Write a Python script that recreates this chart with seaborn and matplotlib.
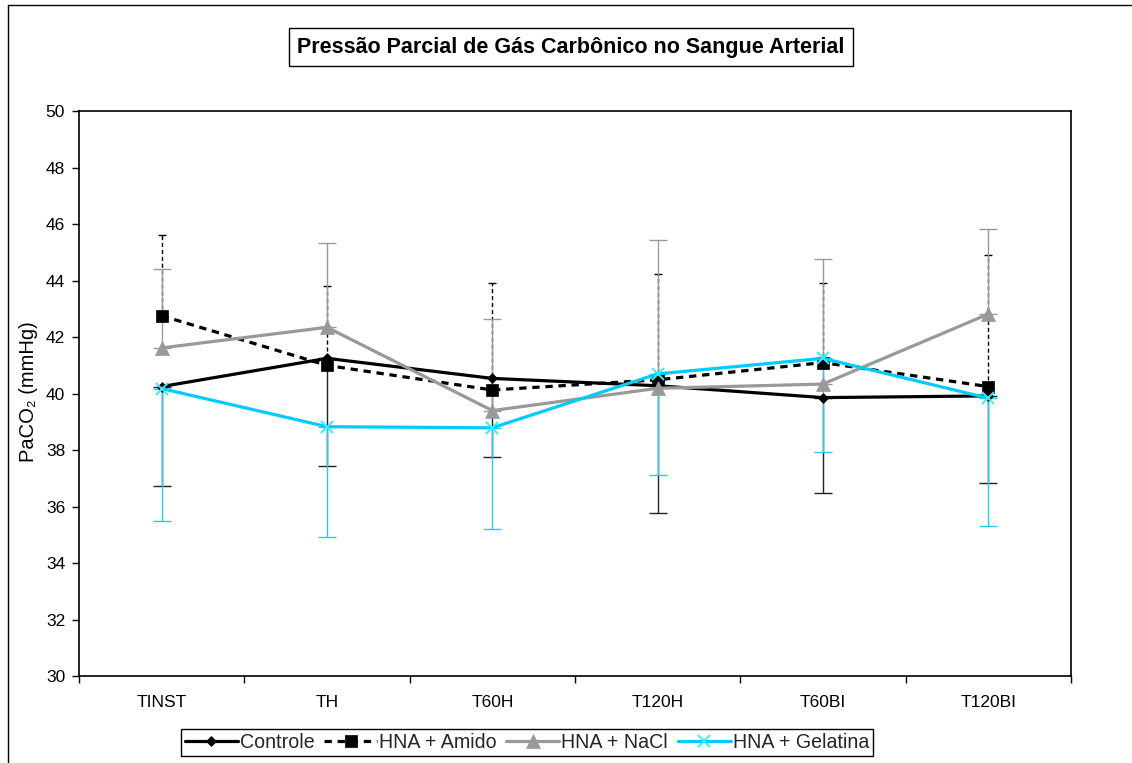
import matplotlib
matplotlib.use("Agg")
import matplotlib.pyplot as plt
from matplotlib.lines import Line2D
import seaborn as sns

# Time points and group means / standard deviations of PaCO2 (mmHg)
categories = ["TINST", "TH", "T60H", "T120H", "T60BI", "T120BI"]

controle = [40.25, 41.25, 40.54, 40.28, 39.86, 39.92]
controle_sd = [3.51, 3.80, 2.79, 4.50, 3.37, 3.07]

amido = [42.76, 41.00, 40.13, 40.49, 41.10, 40.25]
amido_sd = [2.86, 2.81, 3.80, 3.74, 2.81, 4.67]

nacl = [41.62, 42.35, 39.40, 40.19, 40.34, 42.82]
nacl_sd = [2.80, 2.99, 3.24, 5.25, 4.42, 3.00]

gelatina = [40.18, 38.83, 38.79, 40.70, 41.25, 39.84]
gelatina_sd = [4.69, 3.90, 3.59, 3.58, 3.31, 4.53]

series_names = ["Controle", "HNA + Amido", "HNA + NaCl", "HNA + Gelatina"]

sns.set_style("white")
plt.rcParams["font.family"] = ["Liberation Sans", "DejaVu Sans"]

W, H = 1132, 763
fig = plt.figure(figsize=(W / 100, H / 100), dpi=100)
fig.patch.set_facecolor("white")
ax = fig.add_axes([79 / W, 1 - 676 / H, (1071 - 79) / W, (676 - 111.3) / H])

dash = (0, (2.3, 1.8))
styles = [
    dict(values=controle, sd=controle_sd, lower=True, color="black", ecolor="#222222",
         ls="-", marker="D", ms=5, mfc="black", mec="black", els="-", cap=6.5),
    dict(values=amido, sd=amido_sd, lower=False, color="black", ecolor="black",
         ls=dash, marker="s", ms=9, mfc="black", mec="black", els=(0, (3, 2)), cap=3),
    dict(values=nacl, sd=nacl_sd, lower=False, color="#999999", ecolor="#999999",
         ls="-", marker="^", ms=10, mfc="#999999", mec="#999999", els="-", cap=6.5),
    dict(values=gelatina, sd=gelatina_sd, lower=True, color="#00CCFF", ecolor="#22CCF5",
         ls="-", marker="x", ms=9, mfc="#33EEFF", mec="#33EEFF", els="-", cap=6.5),
]

for name, st in zip(series_names, styles):
    vals, sd = st["values"], st["sd"]
    yerr = [sd, [0] * len(sd)] if st["lower"] else [[0] * len(sd), sd]
    eb = ax.errorbar(categories, vals, yerr=yerr, fmt="none", ecolor=st["ecolor"],
                     elinewidth=1.0, capsize=st["cap"], capthick=1.0, zorder=2)
    for coll in eb.lines[2]:
        coll.set_linestyle(st["els"])
    sns.lineplot(x=categories, y=vals, ax=ax, sort=False, label=name,
                 color=st["color"], linestyle=st["ls"], linewidth=2.3,
                 marker=st["marker"], markersize=st["ms"],
                 markerfacecolor=st["mfc"], markeredgecolor=st["mec"],
                 markeredgewidth=1.4 if st["marker"] == "x" else 0.5, zorder=3)

ax.set_xlim(-0.5, len(categories) - 0.5)
ax.set_ylim(30, 50)
ax.set_yticks(range(30, 51, 2))
ax.set_xticks(range(len(categories)))
ax.set_xticklabels(categories)
ax.set_xticks([i - 0.5 for i in range(len(categories) + 1)], minor=True)
ax.tick_params(axis="x", which="major", length=0, pad=14, labelsize=12.5, colors="black")
ax.tick_params(axis="x", which="minor", length=5, width=1, direction="out", color="black",
               bottom=True)
ax.tick_params(axis="y", which="major", length=5, width=1, direction="out", pad=5,
               labelsize=12.5, colors="black", left=True)
ax.set_xlabel("")
ax.set_ylabel("PaCO₂ (mmHg)", fontsize=14.5, color="black")
ax.yaxis.set_label_coords(-(79 - 38) / (1071 - 79), 0.504)
for sp in ax.spines.values():
    sp.set_visible(True)
    sp.set_color("black")
    sp.set_linewidth(1.2)

handles, labels = ax.get_legend_handles_labels()
ax.get_legend().remove()
leg = fig.legend(handles, labels, loc="center", bbox_to_anchor=(527 / W, 1 - 742.7 / H),
                 ncol=4, frameon=True, fancybox=False, framealpha=1, edgecolor="black",
                 fontsize=14.1, handlelength=2.7, handletextpad=0.1, columnspacing=0.5,
                 borderpad=0.2, borderaxespad=0)
leg.get_frame().set_linewidth(1.0)

fig.text(571 / W, 1 - 47 / H, "Pressão Parcial de Gás Carbônico no Sangue Arterial",
         ha="center", va="center", fontsize=15.5, fontweight="bold", color="black",
         bbox=dict(boxstyle="square,pad=0.38", fc="white", ec="black", lw=1.0))

# outer chart frame
fig.add_artist(Line2D([8 / W, 8 / W], [0, 1 - 5 / H], transform=fig.transFigure,
                      color="black", lw=1.0))
fig.add_artist(Line2D([8 / W, 1131 / W], [1 - 5 / H, 1 - 5 / H], transform=fig.transFigure,
                      color="black", lw=1.0))

fig.savefig("out.png", dpi=100)
